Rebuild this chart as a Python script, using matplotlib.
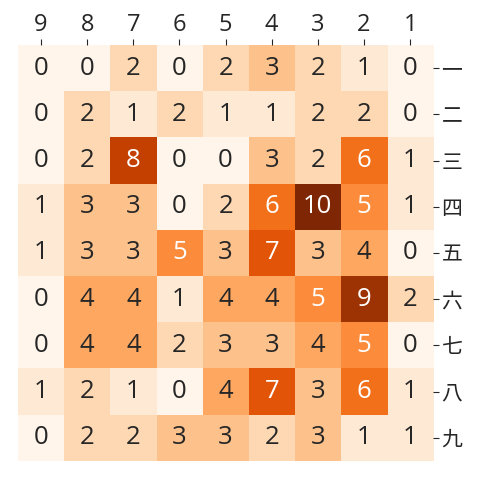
import numpy as np
import matplotlib
matplotlib.use("Agg")
import matplotlib.pyplot as plt

plt.rcParams['font.family'] = ['Open Sans', 'Noto Sans CJK JP', 'DejaVu Sans']

col_labels = ['9', '8', '7', '6', '5', '4', '3', '2', '1']
row_labels = ['一', '二', '三', '四', '五', '六', '七', '八', '九']

counts = np.array([
    [0, 0, 2, 0, 2, 3, 2, 1, 0],
    [0, 2, 1, 2, 1, 1, 2, 2, 0],
    [0, 2, 8, 0, 0, 3, 2, 6, 1],
    [1, 3, 3, 0, 2, 6, 10, 5, 1],
    [1, 3, 3, 5, 3, 7, 3, 4, 0],
    [0, 4, 4, 1, 4, 4, 5, 9, 2],
    [0, 4, 4, 2, 3, 3, 4, 5, 0],
    [1, 2, 1, 0, 4, 7, 3, 6, 1],
    [0, 2, 2, 3, 3, 2, 3, 1, 1],
])

fig = plt.figure(figsize=(4.8, 4.8), dpi=100)
ax = fig.add_axes([0.0375, 0.04, 0.865, 0.866])

cmap = plt.get_cmap('Oranges')
ax.imshow(counts, cmap=cmap, vmin=0, vmax=10, aspect='auto')

for i in range(counts.shape[0]):
    for j in range(counts.shape[1]):
        v = counts[i, j]
        ax.text(
            j, i, str(v),
            ha='center',
            va='center',
            fontsize=18.5,
            color='white' if v >= 5 else '#262626'
        )

ax.set_xticks(range(len(col_labels)))
ax.set_xticklabels(col_labels, fontsize=17)
ax.set_yticks(range(len(row_labels)))
ax.set_yticklabels(row_labels, fontsize=15)
ax.xaxis.tick_top()
ax.yaxis.tick_right()
ax.tick_params(colors='#262626', length=4, pad=2)

for s in ax.spines.values():
    s.set_visible(False)

plt.savefig("out.png", dpi=100)
plt.close()
